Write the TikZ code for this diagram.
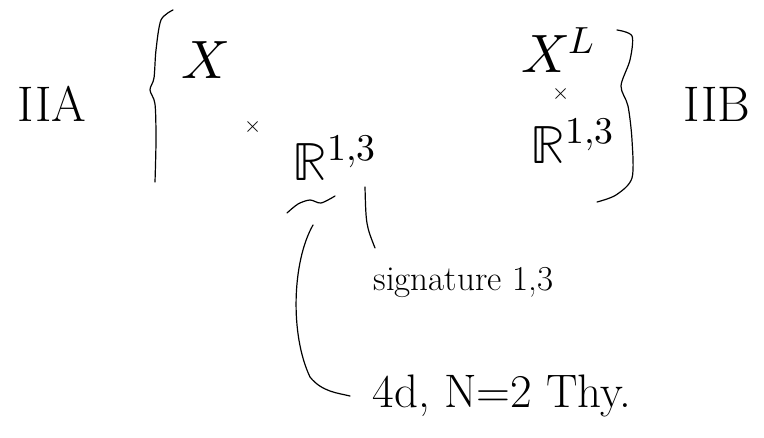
\documentclass[tikz,border=0pt]{standalone}
\usepackage{fontspec}
\usepackage{unicode-math}
\usetikzlibrary{positioning}

\begin{document}
\begin{tikzpicture}[x=1pt,y=-1pt,line width=1.2pt,line cap=round,
  big/.style={font=\fontsize{50}{52}\selectfont,inner sep=0pt},
  sym/.style={font=\fontsize{54}{56}\selectfont,inner sep=0pt},
  tiny/.style={font=\fontsize{22}{24}\selectfont,inner sep=0pt},
  note/.style={anchor=west,inner sep=0pt}]
  \useasboundingbox (0,0) rectangle (764,437);
  % --- vlevo: IIA ---
  \node[big] (iia) at (52,104) {IIA};
  \draw plot[smooth] coordinates {(173,10) (161,20) (156,50) (154,78) (150,90) (155,104) (156,140) (155,182)};
  \node[sym] (xa) at (205,60) {$X$};
  \node[tiny] (ta) at (253,127) {$\times$};
  \node[sym,anchor=base west] (ra) at (292,180) {$\mathbb{R}^{1,3}$};
  \draw plot[smooth] coordinates {(287,213) (298,204) (310,200) (321,203) (335,196)};
  % --- vpravo: IIB ---
  \node[sym] (xb) at (558,50) {$X^{L}$};
  \node[tiny] (tb) at (561,94) {$\times$};
  \node[sym,anchor=base west] (rb) at (530,163) {$\mathbb{R}^{1,3}$};
  \draw plot[smooth] coordinates {(617,30) (632,36) (630,60) (621,86) (628,106) (632,140) (632,178) (616,195) (597,202)};
  \node[big] (iib) at (717,104) {IIB};
  % --- poznamky ---
  \node[note,font=\fontsize{35}{37}\selectfont] (sig) at (373,282) {signature 1,3};
  \node[note,font=\fontsize{47}{49}\selectfont,inner xsep=22pt] (thy) at (350,396) {4d, N=2 Thy.};
  \coordinate (ra-foot) at (365,187);
  \coordinate (sig-top) at (375,248);
  \coordinate (tl-foot) at (313,225);
  \draw (ra-foot) .. controls (366,225) .. (sig-top);
  \draw (tl-foot) .. controls (292,262) and (290,335) .. (310,377) .. controls (322,392) and (338,393) .. (thy.west);
\end{tikzpicture}
\end{document}
